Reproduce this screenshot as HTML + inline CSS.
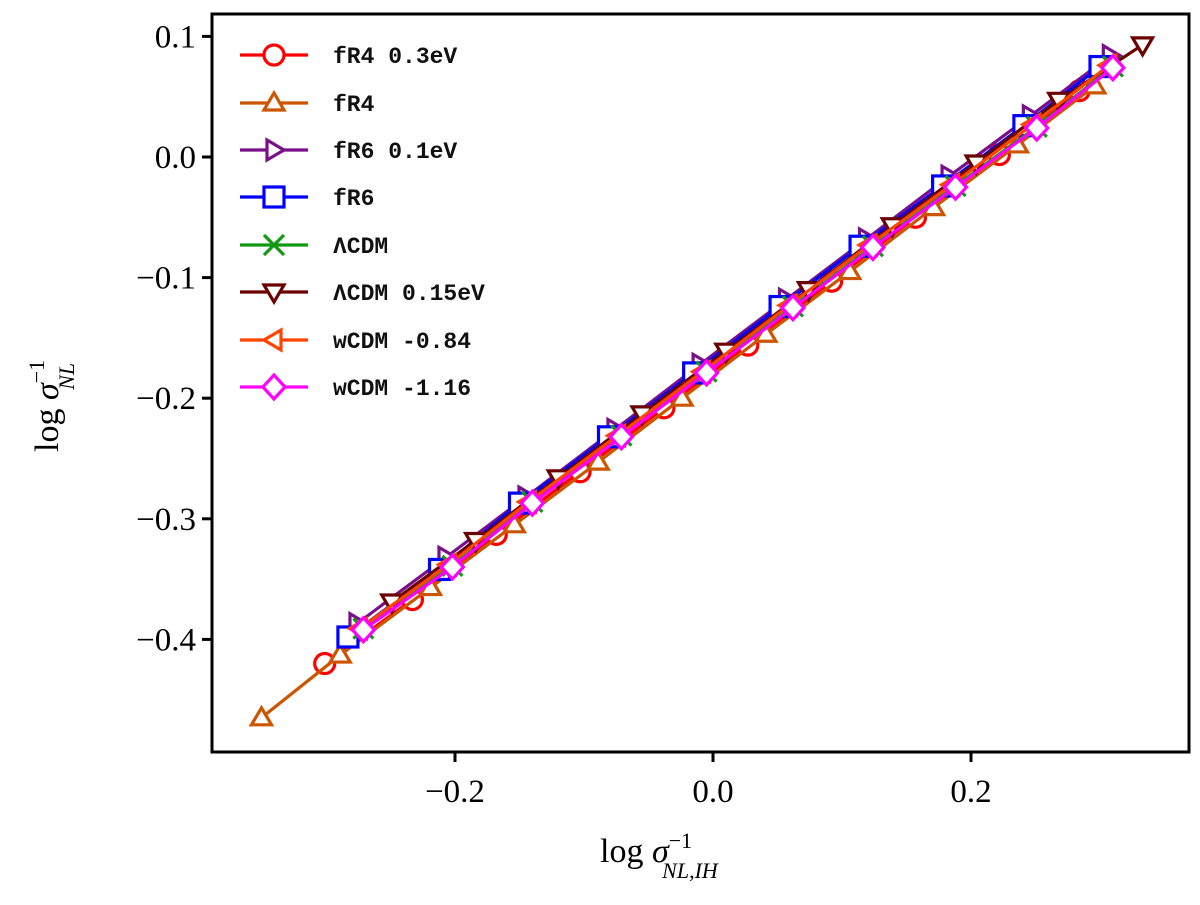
<!DOCTYPE html>
<html><head><meta charset="utf-8"><style>
body{margin:0;background:#fff;}
svg text{font-family:"Liberation Serif",serif;}
.leg{font-family:"Liberation Mono",monospace;font-size:23px;font-weight:bold;fill:#111;}
</style></head><body>
<svg id="c" width="1200" height="900" xmlns="http://www.w3.org/2000/svg"></svg>
<script>
const xTicks=[-0.2,0.0,0.2];
const xTickLabels=["\u22120.2","0.0","0.2"];
const yTicks=[0.1,0.0,-0.1,-0.2,-0.3,-0.4];
const yTickLabels=["0.1","0.0","\u22120.1","\u22120.2","\u22120.3","\u22120.4"];
const seriesNames=["fR4 0.3eV","fR4","fR6 0.1eV","fR6","\u039bCDM","\u039bCDM 0.15eV","wCDM -0.84","wCDM -1.16"];
const fR4nuX=[-0.301,-0.233,-0.168,-0.103,-0.038,0.027,0.092,0.157,0.222,0.284];
const fR4nuY=[-0.420,-0.367,-0.313,-0.261,-0.208,-0.156,-0.103,-0.050,0.002,0.055];
const fR4X=[-0.350,-0.289,-0.219,-0.154,-0.089,-0.024,0.041,0.106,0.171,0.236,0.296];
const fR4Y=[-0.465,-0.413,-0.357,-0.305,-0.253,-0.200,-0.147,-0.095,-0.042,0.010,0.059];
const fR6nuX=[-0.276,-0.207,-0.145,-0.076,-0.010,0.057,0.119,0.183,0.246,0.308];
const fR6nuY=[-0.387,-0.332,-0.282,-0.226,-0.172,-0.118,-0.068,-0.016,0.034,0.084];
const fR6X=[-0.283,-0.212,-0.150,-0.081,-0.015,0.052,0.114,0.178,0.241,0.300];
const fR6Y=[-0.398,-0.342,-0.287,-0.232,-0.179,-0.124,-0.074,-0.024,0.026,0.075];
const lcdmX=[-0.271,-0.202,-0.140,-0.071,-0.005,0.062,0.124,0.188,0.251,0.310];
const lcdmY=[-0.391,-0.339,-0.286,-0.231,-0.178,-0.124,-0.074,-0.024,0.025,0.075];
const lcdmNuX=[-0.249,-0.184,-0.120,-0.055,0.010,0.074,0.139,0.204,0.268,0.333];
const lcdmNuY=[-0.369,-0.318,-0.266,-0.213,-0.161,-0.110,-0.057,-0.005,0.047,0.093];
const w84X=[-0.274,-0.205,-0.143,-0.074,-0.008,0.059,0.121,0.185,0.248,0.307];
const w84Y=[-0.391,-0.338,-0.286,-0.231,-0.178,-0.123,-0.073,-0.023,0.027,0.076];
const w116X=[-0.271,-0.202,-0.140,-0.071,-0.005,0.062,0.124,0.188,0.251,0.310];
const w116Y=[-0.392,-0.340,-0.287,-0.232,-0.179,-0.125,-0.075,-0.025,0.024,0.074];

const L=212,R=1189,T=14,B=752;
function sx(v){return 713+v*1290;}
function sy(v){return 157-v*1206;}
const NS="http://www.w3.org/2000/svg";
const svg=document.getElementById('c');
function el(t,a,p){const e=document.createElementNS(NS,t);for(const k in a)e.setAttribute(k,a[k]);(p||svg).appendChild(e);return e;}

const series=[
 {x:fR4nuX,y:fR4nuY,c:"#ff0000",m:"o"},
 {x:fR4X,y:fR4Y,c:"#cc5500",m:"^"},
 {x:fR6nuX,y:fR6nuY,c:"#7a0f8a",m:">"},
 {x:fR6X,y:fR6Y,c:"#0000ff",m:"s"},
 {x:lcdmX,y:lcdmY,c:"#119911",m:"x"},
 {x:lcdmNuX,y:lcdmNuY,c:"#6b0000",m:"v"},
 {x:w84X,y:w84Y,c:"#ff4400",m:"<"},
 {x:w116X,y:w116Y,c:"#ff00ff",m:"d"}
];
function marker(g,m,x,y,c){
 const r=10,st={fill:"#fff",stroke:c,"stroke-width":3.2};
 let e;
 if(m==="o") e=el('circle',Object.assign({cx:x,cy:y,r:r},st),g);
 else if(m==="s") e=el('rect',Object.assign({x:x-r,y:y-r,width:2*r,height:2*r},st),g);
 else if(m==="d") e=el('polygon',Object.assign({points:`${x},${y-r-2} ${x+r+1},${y} ${x},${y+r+2} ${x-r-1},${y}`},st),g);
 else if(m==="x") e=el('path',{d:`M${x-r} ${y-r}L${x+r} ${y+r}M${x-r} ${y+r}L${x+r} ${y-r}`,stroke:c,"stroke-width":3.2},g);
 else {
  let p;
  if(m==="^") p=[[x,y-r],[x+r,y+r*0.7],[x-r,y+r*0.7]];
  if(m==="v") p=[[x,y+r],[x+r,y-r*0.7],[x-r,y-r*0.7]];
  if(m===">") p=[[x+r,y],[x-r*0.7,y-r],[x-r*0.7,y+r]];
  if(m==="<") p=[[x-r,y],[x+r*0.7,y-r],[x+r*0.7,y+r]];
  e=el('polygon',Object.assign({points:p.map(q=>q.join(',')).join(' ')},st),g);
 }
 
 
}
series.forEach((s,i)=>{
 const g=el('g',{});
 
 
 const pts=s.x.map((v,j)=>sx(v)+','+sy(s.y[j])).join(' ');
 el('polyline',{points:pts,fill:"none",stroke:s.c,"stroke-width":3.2},g);
 s.x.forEach((v,j)=>marker(g,s.m,sx(v),sy(s.y[j]),s.c));
});
const fr=el('rect',{x:L,y:T,width:R-L,height:B-T,fill:"none",stroke:"#000","stroke-width":3});


xTicks.forEach((v,i)=>{
 el('line',{x1:sx(v),x2:sx(v),y1:B,y2:B+10,stroke:"#000","stroke-width":3});
 const t=el('text',{x:sx(v),y:B+50,"text-anchor":"middle","font-size":33});
 t.textContent=xTickLabels[i];
 
 
});
yTicks.forEach((v,i)=>{
 el('line',{x1:L-10,x2:L,y1:sy(v),y2:sy(v),stroke:"#000","stroke-width":3});
 const t=el('text',{x:L-16,y:sy(v)+11,"text-anchor":"end","font-size":33});
 t.textContent=yTickLabels[i];
 
 
});
const rows=[55,103,150,197,245,292,340,387];
series.forEach((s,i)=>{
 const g=el('g',{});
 
 
 el('line',{x1:240,x2:308,y1:rows[i],y2:rows[i],stroke:s.c,"stroke-width":3.2},g);
 marker(g,s.m,274,rows[i],s.c);
 const t=el('text',{x:333,y:rows[i]+8,class:"leg"},g);
 t.textContent=seriesNames[i];
});
// axis titles
const xt=el('text',{x:600,y:862,"font-size":34});


xt.innerHTML='log <tspan font-style="italic">σ</tspan><tspan font-size="22" dy="-14">−1</tspan><tspan font-size="22" font-style="italic" dx="-30" dy="30">NL,IH</tspan>';
const yt=el('text',{x:0,y:0,"font-size":34,transform:"translate(58,452) rotate(-90)"});


yt.innerHTML='log <tspan font-style="italic">σ</tspan><tspan font-size="22" dy="-14">−1</tspan><tspan font-size="22" font-style="italic" dx="-30" dy="30">NL</tspan>';
</script>
</body></html>
